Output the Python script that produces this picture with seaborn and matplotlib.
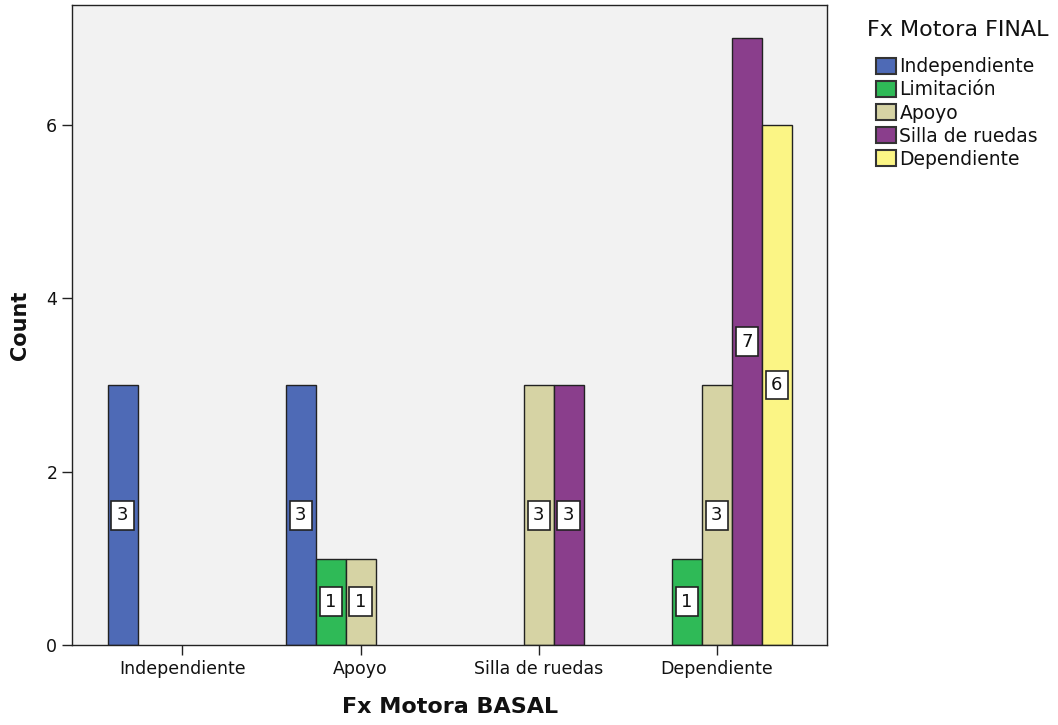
import pandas as pd
import matplotlib.pyplot as plt
import seaborn as sns
from matplotlib.patches import Patch

# categories and counts
basal = ['Independiente', 'Apoyo', 'Silla de ruedas', 'Dependiente']
final = ['Independiente', 'Limitación', 'Apoyo', 'Silla de ruedas', 'Dependiente']
bar_basal = ['Independiente', 'Apoyo', 'Apoyo', 'Apoyo', 'Silla de ruedas', 'Silla de ruedas',
             'Dependiente', 'Dependiente', 'Dependiente', 'Dependiente']
bar_final = ['Independiente', 'Independiente', 'Limitación', 'Apoyo', 'Apoyo', 'Silla de ruedas',
             'Limitación', 'Apoyo', 'Silla de ruedas', 'Dependiente']
bar_count = [3, 3, 1, 1, 3, 3, 1, 3, 7, 6]
colors = ['#4E6AB6', '#2FBA57', '#D6D3A4', '#8A3E8C', '#FBF585']

data = pd.DataFrame({'basal': bar_basal, 'final': bar_final, 'count': bar_count})

sns.set_style('white')
plt.rcParams['font.family'] = ['DejaVu Sans']

fig = plt.figure(figsize=(10.58, 7.25), dpi=100)
ax = fig.add_axes([0.068, 0.110, 0.714, 0.883])
ax.set_facecolor('#F2F2F2')

sns.barplot(data=data, x='basal', y='count', hue='final', order=basal, hue_order=final,
            palette=colors, width=0.84, dodge=True, edgecolor='#222222', linewidth=1,
            saturation=1, legend=False, ax=ax)

# white value boxes in the middle of each bar
for cont in ax.containers:
    ax.bar_label(cont, label_type='center', fmt='%d', fontsize=13, color='#111111',
                 bbox=dict(boxstyle='square,pad=0.3', fc='white', ec='#222222', lw=1.2))

ax.set_xlim(-0.62, 3.62)
ax.set_ylim(0, 7.38)
ax.set_yticks([0, 2, 4, 6])
ax.tick_params(axis='both', direction='out', length=7, width=1, color='#222222',
               bottom=True, left=True, labelsize=12.5, labelcolor='#111111')
for s in ax.spines.values():
    s.set_color('#222222')
    s.set_linewidth(1)

ax.set_xlabel('Fx Motora BASAL', fontsize=16, fontweight='bold', labelpad=14, color='#111111')
ax.set_ylabel('Count', fontsize=15, fontweight='bold', labelpad=12, color='#111111')

# legend outside on the right, title placed on its own
fig.text(0.819, 0.958, 'Fx Motora FINAL', fontsize=16, color='#111111', va='center')
handles = [Patch(facecolor=c, edgecolor='#333333', linewidth=1.5) for c in colors]
fig.legend(handles, final, loc='upper left', bbox_to_anchor=(0.828, 0.921), frameon=False,
           fontsize=13.5, handlelength=1.05, handleheight=0.95, handletextpad=0.2,
           labelspacing=0.22, borderaxespad=0, borderpad=0, labelcolor='#111111')

fig.savefig('out.png', dpi=100)
